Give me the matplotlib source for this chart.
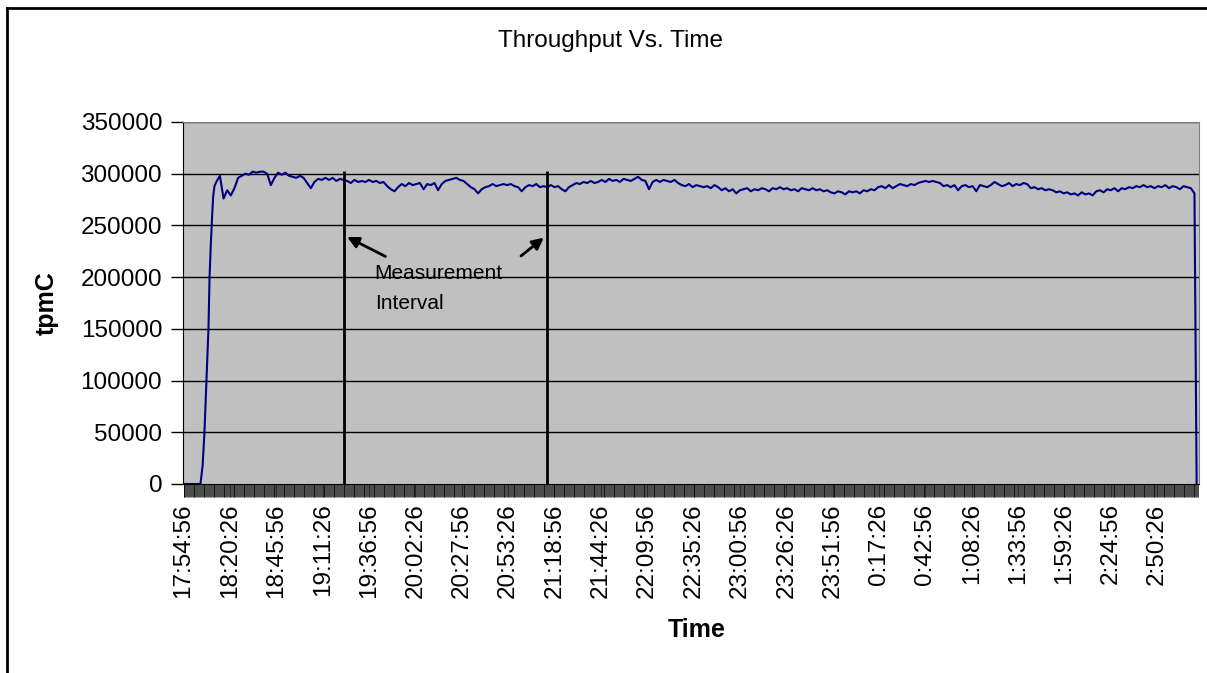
import numpy as np
import matplotlib.pyplot as plt
from matplotlib.lines import Line2D
from matplotlib.ticker import FixedLocator, NullFormatter

plt.rcParams['font.family'] = ['Liberation Sans', 'DejaVu Sans']

# time in minutes after 17:54:56, throughput in thousands of tpmC
ramp_min = [0, 9.3, 10.5, 11.5, 12.6, 13.7, 14.3, 15.0, 15.8, 16.3, 17.0]
ramp_tpm = [0, 0, 18, 50, 100, 150, 200, 232, 262, 278, 288]

# steady state, one reading every 2 minutes from minute 18
warmup_tpm = [292, 298, 276, 284, 279, 286, 296, 298, 300, 299, 302, 301,
              302, 302, 300, 289, 296, 301, 299, 301, 298, 297, 296, 298,
              296, 291, 286, 292, 295, 294, 296, 294, 296, 293, 295]
measure_tpm = [294, 293, 291, 294, 292, 293, 292, 294, 292, 293, 291, 292,
               288, 285, 283, 287, 290, 288, 291, 289, 290, 291, 285, 290,
               289, 291, 284, 290, 293, 294, 295, 296, 294, 293, 290, 287,
               285, 281, 285, 287, 288, 290, 288, 289, 290, 289, 290, 288,
               287, 283, 287, 289, 288, 290, 287, 288]
after_tpm = [287, 289, 287, 288, 285, 283, 287, 289, 291, 290, 292, 291,
             293, 291, 292, 294, 292, 295, 293, 294, 292, 295, 294, 293,
             295, 297, 294, 293, 285, 292, 294, 292, 294, 293, 292, 294,
             291, 289, 288, 290, 287, 289, 288, 287, 288, 286, 289, 287,
             284, 286, 283, 285, 281, 284, 285, 286, 283, 285, 284, 286,
             285, 283, 286, 285, 287, 285, 286, 284, 285, 283, 286, 285,
             284, 286, 284, 285, 283, 284, 282, 281, 283, 282, 280, 283,
             282, 283, 281, 284, 283, 285, 284, 287, 288, 286, 289, 286,
             288, 290, 289, 288, 290, 289, 291, 292, 293, 292, 293, 292,
             291, 288, 289, 287, 289, 284, 288, 289, 287, 288, 283, 289,
             288, 287, 289, 292, 290, 288, 289, 291, 288, 290, 289, 291,
             290, 286, 287, 285, 286, 284, 285, 284, 282, 283, 281, 282,
             280, 281, 279, 282, 280, 281, 279, 283, 284, 282, 285, 284,
             286, 283, 286, 285, 287, 286, 288, 287, 289, 287, 288, 286,
             288, 287, 289, 286, 288, 287, 285, 288, 287, 286, 281]
end_min = [557.2]
end_tpm = [0]

tick_labels = ["17:54:56", "18:20:26", "18:45:56", "19:11:26", "19:36:56",
               "20:02:26", "20:27:56", "20:53:26", "21:18:56", "21:44:26",
               "22:09:56", "22:35:26", "23:00:56", "23:26:26", "23:51:56",
               "0:17:26", "0:42:56", "1:08:26", "1:33:56", "1:59:26",
               "2:24:56", "2:50:26"]
label_step = 25.5       # minutes between labelled categories
category_step = 0.5     # one sample every 30 s

meas_min = [88.0, 199.9]
meas_top = 302.6

steady = warmup_tpm + measure_tpm + after_tpm
steady_min = 18 + 2 * np.arange(len(steady))
t = np.concatenate([ramp_min, steady_min, end_min])
v = np.concatenate([ramp_tpm, steady, end_tpm]) * 1000

fig = plt.figure(figsize=(12.07, 6.73), dpi=100)
ax = fig.add_axes([183 / 1207, 1 - 484 / 673, (1199 - 183) / 1207, (484 - 122) / 673])
ax.set_facecolor("#c0c0c0")

for y in range(50000, 350001, 50000):
    ax.axhline(y, color="black", linewidth=1.0, zorder=1)

ax.plot(t, v, color="#000080", linewidth=1.5, zorder=3)
ax.vlines(meas_min, 0, meas_top * 1000, color="black", linewidth=2, zorder=4)

ax.annotate("", xy=(88.6, 240100), xytext=(112.4, 218800),
            arrowprops=dict(arrowstyle="-|>", color="black", lw=2, mutation_scale=17))
ax.annotate("", xy=(199.3, 239800), xytext=(184.4, 218800),
            arrowprops=dict(arrowstyle="-|>", color="black", lw=2, mutation_scale=17))
ax.text(105.1, 198200, "Measurement", fontsize=15, va="baseline", ha="left")
ax.text(105.1, 169200, "Interval", fontsize=15, va="baseline", ha="left")

ax.set_xlim(-0.3, 558.5)
ax.set_ylim(0, 350000)
ax.set_yticks(range(0, 350001, 50000))
ax.set_yticklabels([str(y) for y in range(0, 350001, 50000)])
ax.set_xticks([k * label_step for k in range(len(tick_labels))])
ax.set_xticklabels(tick_labels, rotation=90)
ax.xaxis.set_minor_locator(FixedLocator(np.arange(0, 558.5, category_step)))
ax.xaxis.set_minor_formatter(NullFormatter())

ax.tick_params(axis="y", length=9, width=1, pad=6, labelsize=17.5)
ax.tick_params(axis="x", which="major", length=9, width=0.6, pad=5, labelsize=17.5)
ax.tick_params(axis="x", which="minor", length=9, width=0.5, color="black")

for side in ["top", "right"]:
    ax.spines[side].set_color("#808080")
ax.spines["left"].set_color("black")
ax.spines["bottom"].set_color("black")

fig.text(610 / 1207, 1 - 41 / 673, "Throughput Vs. Time", fontsize=17.5,
         ha="center", va="center")
fig.text(47 / 1207, 1 - 303 / 673, "tpmC", fontsize=18, fontweight="bold",
         rotation=90, ha="center", va="center")
fig.text(697 / 1207, 1 - 630 / 673, "Time", fontsize=18, fontweight="bold",
         ha="center", va="center")

# chart border
fig.add_artist(Line2D([6.5 / 1207, 6.5 / 1207], [0, 1 - 8.3 / 673],
                      transform=fig.transFigure, color="black", linewidth=2))
fig.add_artist(Line2D([6.5 / 1207, 1], [1 - 8.3 / 673, 1 - 8.3 / 673],
                      transform=fig.transFigure, color="black", linewidth=2))

fig.savefig("out.png", dpi=100)
